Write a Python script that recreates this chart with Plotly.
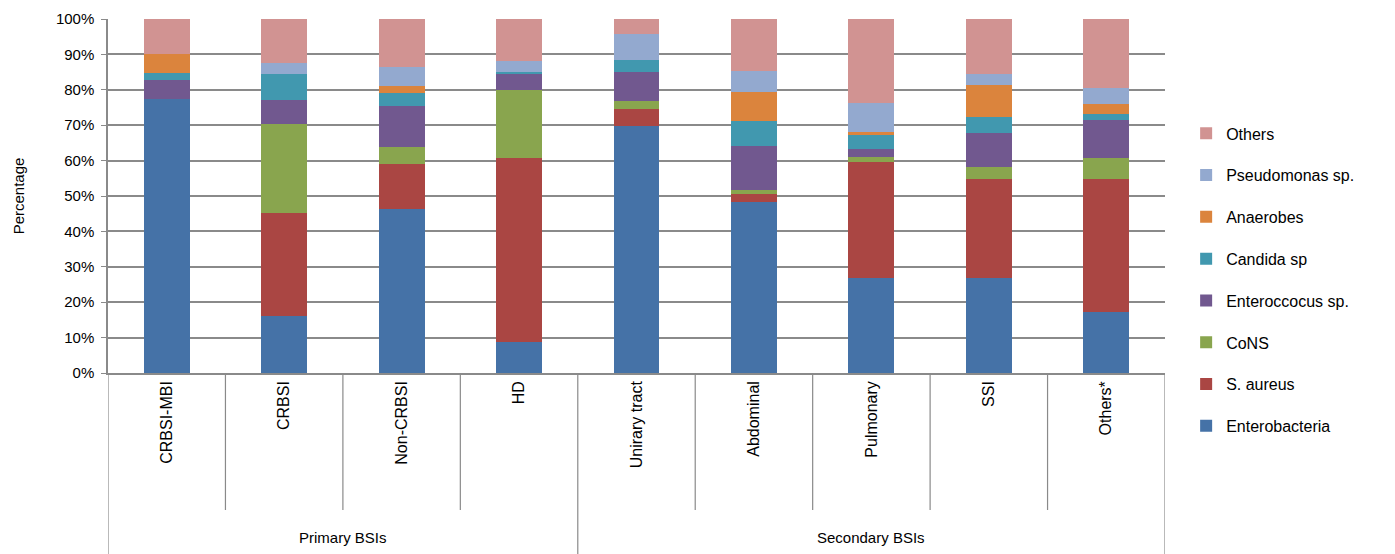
import plotly.graph_objects as go

categories = ["CRBSI-MBI", "CRBSI", "Non-CRBSI", "HD", "Unirary tract",
              "Abdominal", "Pulmonary", "SSI", "Others*"]
groups = ["Primary BSIs"] * 4 + ["Secondary BSIs"] * 5

enterobacteria = [77.5, 16.1, 46.3, 8.8, 69.7, 48.4, 26.9, 26.9, 17.1]
s_aureus       = [0.0, 29.2, 12.7, 52.0, 5.0, 2.3, 32.8, 28.0, 37.8]
cons           = [0.0, 24.9, 4.9, 19.1, 2.2, 1.1, 1.4, 3.3, 5.7]
enterococcus   = [5.3, 6.9, 11.6, 4.5, 8.2, 12.4, 2.3, 9.5, 10.8]
candida        = [1.9, 7.5, 3.5, 0.6, 3.3, 7.1, 3.8, 4.5, 1.7]
anaerobes      = [5.3, 0.0, 2.1, 0.0, 0.0, 8.2, 0.9, 9.1, 2.9]
pseudomonas    = [0.0, 3.1, 5.3, 3.2, 7.3, 5.9, 8.1, 3.1, 4.4]
others         = [10.0, 12.3, 13.7, 11.8, 4.3, 14.6, 23.8, 15.6, 19.6]

series = [
    ("Enterobacteria", enterobacteria, "#4572A7"),
    ("S. aureus", s_aureus, "#AA4643"),
    ("CoNS", cons, "#89A54E"),
    ("Enteroccocus sp.", enterococcus, "#71588F"),
    ("Candida sp", candida, "#4198AF"),
    ("Anaerobes", anaerobes, "#DB843D"),
    ("Pseudomonas sp.", pseudomonas, "#93A9CF"),
    ("Others", others, "#D19392"),
]

FONT = "Liberation Sans"
fig = go.Figure()
n = len(series)
for k, (name, vals, col) in enumerate(series):
    fig.add_trace(go.Bar(
        x=list(range(len(categories))), y=[v / 100 for v in vals], name=name,
        marker=dict(color=col, line=dict(width=0)),
        legendgroup=name, legendrank=n - k,
    ))

grid = "#8a8a8a"
fig.update_layout(
    barmode="stack",
    bargap=0.61,
    width=1395, height=554,
    margin=dict(l=108, r=230, t=19, b=181, autoexpand=False),
    plot_bgcolor="white", paper_bgcolor="white",
    font=dict(family=FONT, size=16, color="black"),
    legend=dict(x=1.02, y=0.725, xanchor="left", yanchor="top",
                traceorder="grouped", tracegroupgap=18,
                font=dict(size=16, family=FONT)),
    yaxis=dict(range=[0, 1], dtick=0.1, tickformat=".0%",
               showgrid=True, gridcolor=grid, gridwidth=1.5,
               showline=True, linecolor=grid, linewidth=1.5,
               ticks="outside", ticklen=5, tickcolor=grid,
               ticklabelstandoff=4,
               title=dict(text="Percentage", font=dict(size=15), standoff=28),
               tickfont=dict(size=15)),
    xaxis=dict(tickmode="array", tickvals=list(range(len(categories))),
               ticktext=categories, tickangle=-90,
               range=[-0.5, len(categories) - 0.5],
               showline=True, linecolor=grid, linewidth=1.5,
               showgrid=False, tickfont=dict(size=16)),
)

# separators below the axis
group_bounds = {-0.5, len(categories) - 0.5}
for i in range(1, len(categories)):
    if groups[i] != groups[i - 1]:
        group_bounds.add(i - 0.5)
for b in [i - 0.5 for i in range(len(categories) + 1)]:
    y1 = -0.52 if b in group_bounds else -0.387
    fig.add_shape(type="line", xref="x", yref="paper", x0=b, x1=b, y0=0, y1=y1,
                  line=dict(color=grid, width=1.2))

# group labels
seen = []
for g in groups:
    if g not in seen:
        seen.append(g)
for g in seen:
    idx = [i for i, gg in enumerate(groups) if gg == g]
    fig.add_annotation(x=(idx[0] + idx[-1]) / 2, y=-0.466, xref="x", yref="paper",
                       text=g, showarrow=False, font=dict(size=15),
                       yanchor="middle")

fig.write_html("out.html")
